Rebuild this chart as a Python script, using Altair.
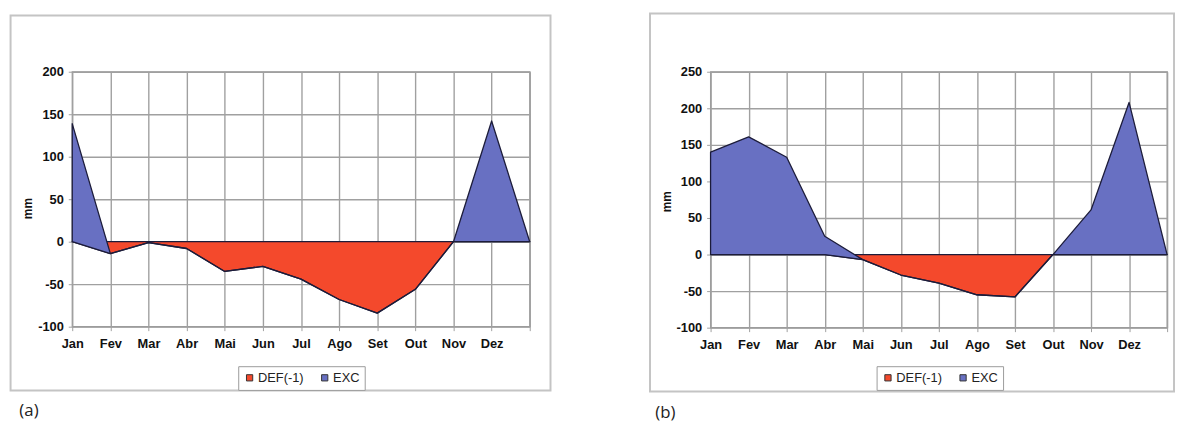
import altair as alt
import pandas as pd

MONTHS = ["Jan", "Fev", "Mar", "Abr", "Mai", "Jun", "Jul", "Ago", "Set", "Out", "Nov", "Dez", ""]
SERIES = ["DEF(-1)", "EXC"]
COLORS = ["#f4492c", "#6870c2"]

# panel (a)
DEF_A = [0, -14, -1, -8, -35, -29, -44, -68, -84, -56, 0, 0, 0]
EXC_A = [139, 0, 0, 0, 0, 0, 0, 0, 0, 0, 0, 142, 0]
YTICKS_A = [-100, -50, 0, 50, 100, 150, 200]

# panel (b)
DEF_B = [0, 0, 0, 0, -7, -28, -39, -55, -58, 0, 0, 0, 0]
EXC_B = [140, 161, 133, 25, 0, 0, 0, 0, 0, 0, 61, 208, 0]
YTICKS_B = [-100, -50, 0, 50, 100, 150, 200, 250]

LABEL_EXPR = "[" + ",".join("'%s'" % m for m in MONTHS) + "][datum.value]"
YLABEL_EXPR = "(datum.value < 0 ? '-' : '') + abs(datum.value)"
LINE = "#1c1c3a"


def panel(defv, excv, yticks, w, h, frame, tag, tagpos, titley, spacer=None):
    idx = list(range(len(MONTHS)))
    df = pd.DataFrame({"x": idx, "DEF": defv, "EXC": excv})
    df["TOP"] = df["DEF"] + df["EXC"]
    df["ZERO"] = 0
    xax = alt.Axis(values=idx, labelExpr=LABEL_EXPR, title=None, grid=True,
                   labelFlush=False, labelOverlap=False, tickSize=4, labelPadding=7)
    yax = alt.Axis(values=yticks, labelExpr=YLABEL_EXPR, title="mm", grid=True,
                   labelFlush=False, labelOverlap=False, tickSize=4, labelPadding=5,
                   titleAngle=270, titleX=-45, titleY=titley,
                   titleAlign="center", titleBaseline="middle")
    xs = alt.Scale(domain=[0, 12], nice=False, zero=False)
    ys = alt.Scale(domain=[yticks[0], yticks[-1]], nice=False, zero=False)
    color = alt.Color("series:N", scale=alt.Scale(domain=SERIES, range=COLORS),
                      legend=alt.Legend(orient="none", legendX=168, legendY=298,
                                        direction="horizontal", title=None,
                                        symbolType="square", symbolSize=40,
                                        symbolStrokeColor="#333", symbolStrokeWidth=1,
                                        symbolOpacity=1,
                                        labelFont="Liberation Sans", labelFontSize=13,
                                        labelColor="#222", labelOffset=2,
                                        columnPadding=14, padding=5,
                                        strokeColor="#9a9a9a", fillColor="white"))
    base = alt.Chart(df)
    red = base.transform_calculate(series="'DEF(-1)'").mark_area(
        stroke=LINE, strokeWidth=1.3, strokeJoin="round", opacity=1
    ).encode(
        x=alt.X("x:Q", scale=xs, axis=xax),
        y=alt.Y("DEF:Q", scale=ys, axis=yax),
        y2="ZERO:Q",
        color=color,
    )
    blue = base.transform_calculate(series="'EXC'").mark_area(
        stroke=LINE, strokeWidth=1.3, strokeJoin="round", opacity=1
    ).encode(
        x=alt.X("x:Q", scale=xs, axis=xax),
        y=alt.Y("TOP:Q", scale=ys, axis=yax),
        y2="DEF:Q",
        color=color,
    )
    one = alt.Chart(pd.DataFrame({"k": [0]}))
    fx1, fx2, fy1, fy2 = frame
    box = one.mark_rect(filled=False, stroke="#c4c4c4", strokeWidth=2).encode(
        x=alt.value(fx1), x2=alt.value(fx2), y=alt.value(fy1), y2=alt.value(fy2)
    )
    txt = one.mark_text(align="left", baseline="middle", font="Open Sans",
                        fontSize=17, color="#222").encode(
        x=alt.value(tagpos[0]), y=alt.value(tagpos[1]), text=alt.value(tag)
    )
    layers = [box, red, blue, txt]
    if spacer is not None:
        layers.append(one.mark_rule(strokeOpacity=0, strokeWidth=1).encode(
            x=alt.value(0), x2=alt.value(1), y=alt.value(spacer), y2=alt.value(spacer)))
    return alt.layer(*layers).properties(width=w, height=h)


WA, HA = 463, 258
WB, HB = 462, 259
a = panel(DEF_A, EXC_A, YTICKS_A, WA, HA, (-62.4, WA + 21, -57, HA + 64.5),
          "(a)", (-53.5, 343.5), 138, spacer=-60)
b = panel(DEF_B, EXC_B, YTICKS_B, WB, HB, (-61.3, WB + 7, -59, HB + 64.5),
          "(b)", (-56, 345.5), 131)

chart = alt.hconcat(a, b, spacing=97).resolve_scale(
    color="independent", y="independent", x="independent"
).properties(
    padding={"left": 0, "top": 1, "right": 0, "bottom": 0}
).configure_view(
    stroke="#999999", strokeWidth=1.4
).configure_axis(
    gridColor="#a0a0a0", gridWidth=1.4, domain=False, tickColor="#a0a0a0",
    labelFont="Liberation Sans", labelFontWeight="bold", labelFontSize=13,
    labelColor="#111", titleFont="Liberation Sans", titleFontSize=12,
    titleFontWeight="bold", titleColor="#111"
)

chart.save("out.html", embed_options={"renderer": "svg", "actions": False})
